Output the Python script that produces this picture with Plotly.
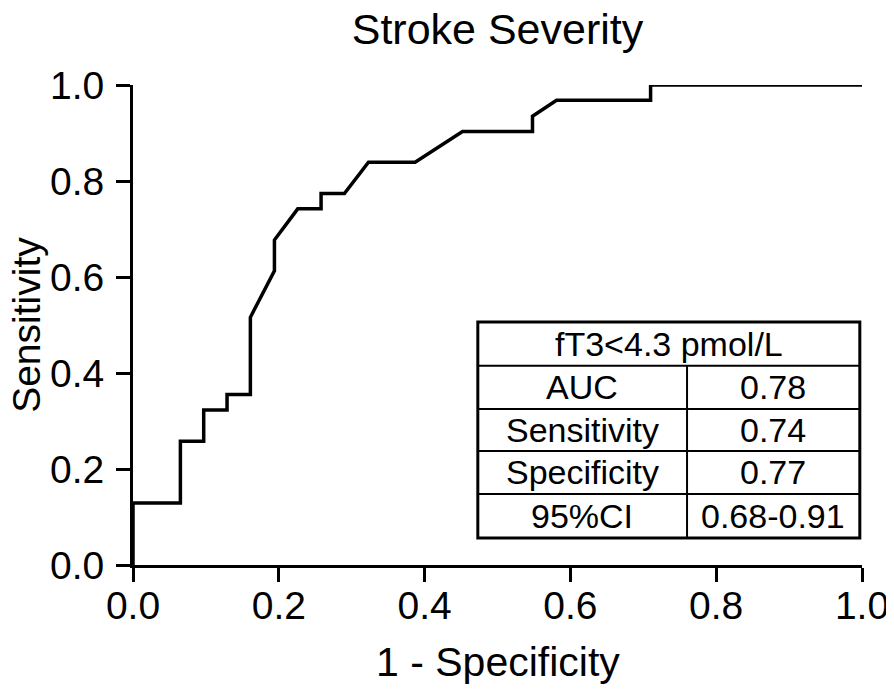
import plotly.graph_objects as go

# ROC curve points
fpr = [0.0, 0.0, 0.065, 0.065, 0.097, 0.097, 0.129, 0.129, 0.161, 0.161, 0.194, 0.194,
       0.226, 0.258, 0.258, 0.290, 0.323, 0.387, 0.452, 0.548, 0.548, 0.581, 0.710, 0.710, 1.0]
sens = [0.0, 0.129, 0.129, 0.258, 0.258, 0.323, 0.323, 0.355, 0.355, 0.516, 0.613, 0.677,
        0.742, 0.742, 0.774, 0.774, 0.839, 0.839, 0.903, 0.903, 0.935, 0.968, 0.968, 1.0, 1.0]

tick_vals = [0.0, 0.2, 0.4, 0.6, 0.8, 1.0]
tick_text = ["0.0", "0.2", "0.4", "0.6", "0.8", "1.0"]

table_header = "fT3<4.3 pmol/L"
table_labels = ["AUC", "Sensitivity", "Specificity", "95%CI"]
table_values = ["0.78", "0.74", "0.77", "0.68-0.91"]

FONT = "Arial, 'Liberation Sans', sans-serif"

fig = go.Figure()
fig.add_trace(go.Scatter(x=fpr, y=sens, mode="lines",
                         line=dict(color="black", width=3.5),
                         showlegend=False, hoverinfo="x+y"))

# table geometry (data coords)
tx0, tx1, tcol = 0.473, 0.997, 0.760
ty_top, ty_bot = 0.506, 0.056
row_lines = [0.415, 0.325, 0.2375, 0.148]

shapes = [dict(type="rect", xref="x", yref="y", x0=tx0, x1=tx1, y0=ty_bot, y1=ty_top,
               line=dict(color="black", width=3), fillcolor="white", layer="above")]
for yl in row_lines:
    shapes.append(dict(type="line", xref="x", yref="y", x0=tx0, x1=tx1, y0=yl, y1=yl,
                       line=dict(color="black", width=2), layer="above"))
shapes.append(dict(type="line", xref="x", yref="y", x0=tcol, x1=tcol, y0=ty_bot, y1=row_lines[0],
                   line=dict(color="black", width=2), layer="above"))

TSIZE = 34
annotations = [dict(x=(tx0 + tx1) / 2, y=(ty_top + row_lines[0]) / 2, xref="x", yref="y",
                    text=table_header, showarrow=False,
                    font=dict(family=FONT, size=TSIZE, color="black"))]
bounds = row_lines + [ty_bot]
for i, (lab, val) in enumerate(zip(table_labels, table_values)):
    yc = (bounds[i] + bounds[i + 1]) / 2
    annotations.append(dict(x=(tx0 + tcol) / 2, y=yc, xref="x", yref="y", text=lab,
                            showarrow=False, font=dict(family=FONT, size=TSIZE, color="black")))
    annotations.append(dict(x=(tcol + tx1) / 2, y=yc, xref="x", yref="y", text=val,
                            showarrow=False, font=dict(family=FONT, size=TSIZE, color="black")))

# axis titles placed as annotations
annotations.append(dict(x=0.5, y=-0.203, xref="paper", yref="paper", text="1 - Specificity",
                        showarrow=False, xanchor="center", yanchor="middle",
                        font=dict(family=FONT, size=41, color="black")))
annotations.append(dict(x=-0.147, y=0.5, xref="paper", yref="paper", text="Sensitivity",
                        textangle=-90, showarrow=False, xanchor="center", yanchor="middle",
                        font=dict(family=FONT, size=39, color="black")))

axis_common = dict(range=[0, 1], tickvals=tick_vals, ticktext=tick_text, automargin=False,
                   showgrid=False, zeroline=False, showline=True, linecolor="black",
                   linewidth=3, ticks="outside", ticklen=14, tickwidth=3, tickcolor="black",
                   tickfont=dict(family=FONT, size=39, color="black"))

# page body adds an 8px offset, so the figure is 886x682 with matching margins
fig.update_layout(
    width=886, height=682,
    margin=dict(l=125, r=32, t=77, b=125, autoexpand=False),
    paper_bgcolor="white", plot_bgcolor="white",
    title=dict(text="Stroke Severity", x=0.5, xref="paper", y=0.969, yref="container",
               xanchor="center", yanchor="middle", automargin=False,
               font=dict(family=FONT, size=43, color="black")),
    xaxis=dict(**axis_common, ticklabelstandoff=-10),
    yaxis=dict(**axis_common, ticklabelstandoff=4),
    shapes=shapes, annotations=annotations,
)

fig.write_html("out.html")
